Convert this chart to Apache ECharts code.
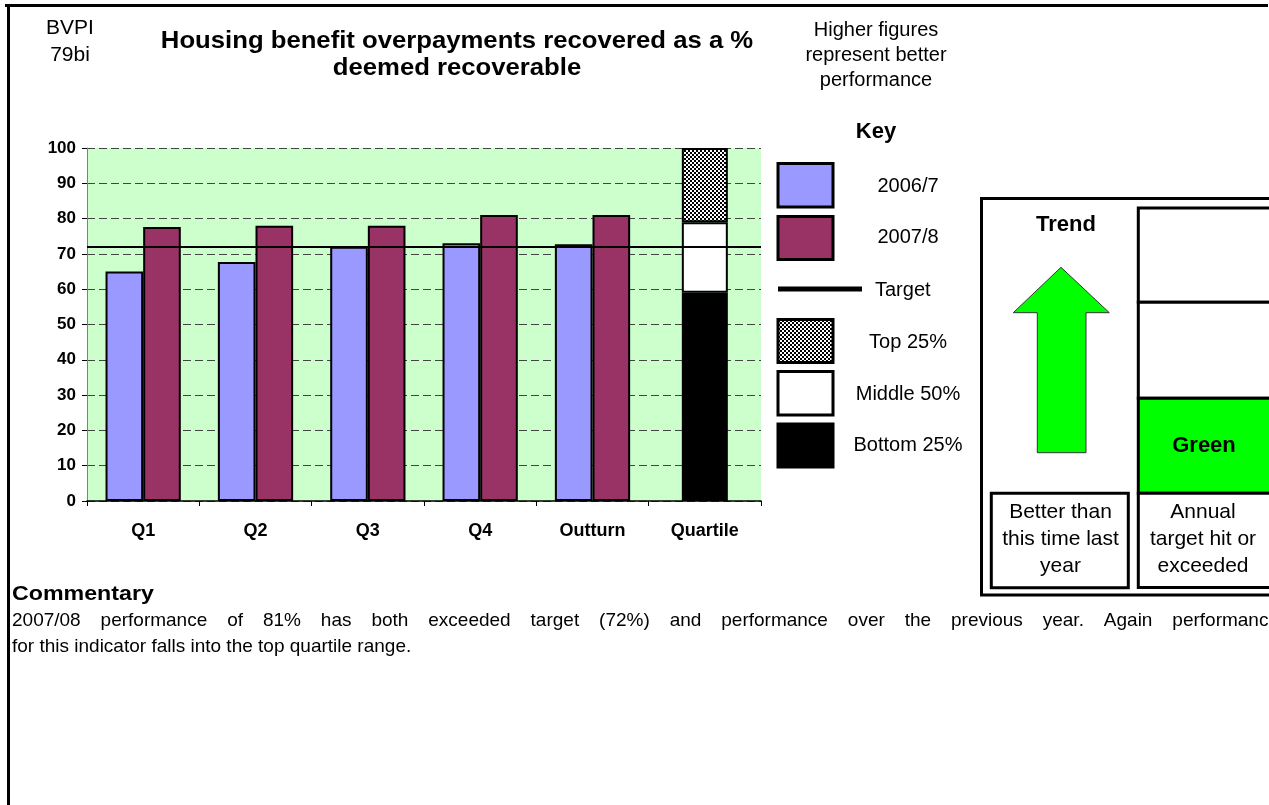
<!DOCTYPE html>
<html>
<head>
<meta charset="utf-8">
<title>Housing benefit overpayments recovered</title>
<script src="https://cdn.jsdelivr.net/npm/echarts@6/dist/echarts.min.js"></script>
<style>
  html, body { margin: 0; padding: 0; background: #fff; }
  #chart { width: 1269px; height: 805px; }
</style>
</head>
<body>
<div id="chart"></div>
<script>
// ---- data ----
const categories = ['Q1', 'Q2', 'Q3', 'Q4', 'Outturn', 'Quartile'];
const values2006 = [65, 67.7, 72, 73, 72.7, null];
const values2007 = [77.6, 78, 78, 81, 81, null];
const targetValue = 72;
// quartile band boundaries: bottom 25% upper edge, middle 50% upper edge, top
const quartileBounds = [59, 79, 100];
const yTicks = { min: 0, max: 100, interval: 10 };

const commentaryLine1 = '2007/08 performance of 81% has both exceeded target (72%) and performance over the previous year. Again performance';
const commentaryLine2 = 'for this indicator falls into the top quartile range.';

const FONT = '"Liberation Sans", Arial, Helvetica, sans-serif';

// checkered fill used for the "Top 25%" band
function makeChecker() {
  const c = document.createElement('canvas');
  c.width = 4; c.height = 4;
  const g = c.getContext('2d');
  g.fillStyle = '#000'; g.fillRect(0, 0, 4, 4);
  g.fillStyle = '#fff';
  g.fillRect(0, 0, 2, 2);
  g.fillRect(2, 2, 2, 2);
  return c;
}
const checker = makeChecker();
const checkerFill = { image: checker, repeat: 'repeat' };

// quartile segments only occupy the last category
const lastIdx = categories.length - 1;
function onlyLast(v) { return categories.map((_, i) => (i === lastIdx ? v : null)); }
const qBottom = onlyLast(quartileBounds[0]);
const qMiddle = onlyLast(quartileBounds[1] - quartileBounds[0]);
const qTop = onlyLast(quartileBounds[2] - quartileBounds[1]);

function txt(x, y, text, size, bold, align, sx) {
  return {
    type: 'text', x: x, y: y, z: 100, scaleX: sx || 1,
    style: {
      text: text, fill: '#000',
      font: (bold ? 'bold ' : '') + size + 'px ' + FONT,
      align: align || 'center', verticalAlign: 'middle',
      textAlign: align || 'center', textVerticalAlign: 'middle'
    }
  };
}
function box(x, y, w, h, fill, lw) {
  return {
    type: 'rect', z: 90,
    shape: { x: x, y: y, width: w, height: h },
    style: { fill: fill || '#fff', stroke: '#000', lineWidth: lw || 3 }
  };
}

// justified paragraph line: words spread between left and right edge
function justified(line, left, right, y, size) {
  const ctx = document.createElement('canvas').getContext('2d');
  const font = size + 'px ' + FONT;
  ctx.font = font;
  const words = line.split(' ');
  const widths = words.map(w => ctx.measureText(w).width);
  const total = widths.reduce((a, b) => a + b, 0);
  const gap = (right - left - total) / (words.length - 1);
  let x = left;
  return words.map((w, i) => {
    const el = txt(x, y, w, size, false, 'left');
    x += widths[i] + gap;
    return el;
  });
}

const barBorder = { borderColor: '#000', borderWidth: 2 };

const graphics = [
  // page frame (top and left edges)
  { type: 'line', z: 90, shape: { x1: 5, y1: 5.5, x2: 1268, y2: 5.5 }, style: { stroke: '#000', lineWidth: 3 } },
  { type: 'line', z: 90, shape: { x1: 8.5, y1: 4, x2: 8.5, y2: 810 }, style: { stroke: '#000', lineWidth: 3 } },

  // headings
  txt(70, 28, 'BVPI', 20, false, 'center', 1.05),
  txt(70, 55, '79bi', 20, false, 'center', 1.05),
  txt(457, 41, 'Housing benefit overpayments recovered as a %', 24, true, 'center', 1.07),
  txt(457, 68, 'deemed recoverable', 24, true, 'center', 1.07),
  txt(876, 30, 'Higher figures', 20, false),
  txt(876, 55, 'represent better', 20, false),
  txt(876, 80, 'performance', 20, false),

  // key
  txt(876, 132, 'Key', 22, true),
  box(778, 163.5, 55, 43.5, '#9999FF', 3),
  txt(908, 186, '2006/7', 20, false),
  box(778, 216.5, 55, 43, '#993366', 3),
  txt(908, 237, '2007/8', 20, false),
  { type: 'rect', z: 90, shape: { x: 778, y: 286.5, width: 84, height: 5 }, style: { fill: '#000' } },
  txt(875, 290, 'Target', 20, false, 'left'),
  box(778, 319.5, 55, 43, checkerFill, 3),
  txt(908, 342, 'Top 25%', 20, false),
  box(778, 371.5, 55, 43.5, '#fff', 3),
  txt(908, 394, 'Middle 50%', 20, false),
  box(778, 424, 55, 43, '#000', 3),
  txt(908, 445.5, 'Bottom 25%', 20, false),

  // trend / target status panel
  box(981.5, 198.5, 320, 396.5, '#fff', 3),
  txt(1066, 224.5, 'Trend', 22, true),
  {
    type: 'polygon', z: 95,
    shape: { points: [[1061, 267.3], [1109.3, 312.7], [1086, 312.7], [1086, 452.7], [1037.3, 452.7], [1037.3, 312.7], [1013.3, 312.7]] },
    style: { fill: '#00FF00', stroke: '#333', lineWidth: 1 }
  },
  box(1138.3, 208, 150, 94.3, '#fff', 3),
  box(1138.3, 302.3, 150, 96, '#fff', 3),
  box(1138.3, 398.3, 150, 95, '#00FF00', 3),
  box(1138.3, 493.3, 150, 94.3, '#fff', 3),
  txt(1204, 446, 'Green', 22, true),
  txt(1203, 512.5, 'Annual', 21, false),
  txt(1203, 539, 'target hit or', 21, false),
  txt(1203, 566, 'exceeded', 21, false),
  box(991.3, 493.3, 137, 94.4, '#fff', 3),
  txt(1060.5, 512.5, 'Better than', 21, false),
  txt(1060.5, 539, 'this time last', 21, false),
  txt(1060.5, 566, 'year', 21, false),

  // commentary
  txt(12, 594, 'Commentary', 20, true, 'left', 1.16),
  ...justified(commentaryLine1, 12, 1279, 621, 19),
  txt(12, 647, commentaryLine2, 19, false, 'left')
];

const chart = echarts.init(document.getElementById('chart'), null, { renderer: 'canvas' });
chart.setOption({
  animation: false,
  backgroundColor: '#fff',
  grid: {
    left: 87, right: 508, top: 148, bottom: 304,
    show: true, backgroundColor: '#CCFFCC', borderWidth: 0,
    outerBoundsMode: 'none'
  },
  xAxis: [
    {
      type: 'category', data: categories,
      axisLine: { lineStyle: { color: '#000', width: 1.5 } },
      axisTick: { show: true, length: 5, lineStyle: { color: '#000' } },
      axisLabel: { color: '#000', fontFamily: FONT, fontWeight: 'bold', fontSize: 18, margin: 21 },
      splitLine: { show: false }
    },
    {
      type: 'category', data: categories, show: false,
      axisLine: { show: false }, axisTick: { show: false }, axisLabel: { show: false }
    }
  ],
  yAxis: {
    type: 'value', min: yTicks.min, max: yTicks.max, interval: yTicks.interval,
    axisLine: { show: true, lineStyle: { color: '#808080', width: 1 } },
    axisTick: { show: true, length: 5, lineStyle: { color: '#000' } },
    axisLabel: { color: '#000', fontFamily: FONT, fontWeight: 'bold', fontSize: 17, margin: 11 },
    splitLine: { show: true, lineStyle: { color: '#444', width: 1, type: [8, 4] } }
  },
  series: [
    {
      name: '2006/7', type: 'bar', xAxisIndex: 0, data: values2006,
      barGap: '0%', barCategoryGap: '33%',
      itemStyle: Object.assign({ color: '#9999FF' }, barBorder)
    },
    {
      name: '2007/8', type: 'bar', xAxisIndex: 0, data: values2007,
      barGap: '0%', barCategoryGap: '33%',
      itemStyle: Object.assign({ color: '#993366' }, barBorder)
    },
    {
      name: 'Bottom 25%', type: 'bar', xAxisIndex: 1, stack: 'quartile', data: qBottom,
      barWidth: 46, itemStyle: Object.assign({ color: '#000' }, barBorder)
    },
    {
      name: 'Middle 50%', type: 'bar', xAxisIndex: 1, stack: 'quartile', data: qMiddle,
      barWidth: 46, itemStyle: Object.assign({ color: '#fff' }, barBorder)
    },
    {
      name: 'Top 25%', type: 'bar', xAxisIndex: 1, stack: 'quartile', data: qTop,
      barWidth: 46, itemStyle: Object.assign({ color: checkerFill }, barBorder),
      markLine: {
        silent: true, symbol: 'none', z: 10,
        label: { show: false },
        lineStyle: { color: '#000', width: 2, type: 'solid' },
        data: [{ yAxis: targetValue }]
      }
    }
  ],
  graphic: graphics
});
</script>
</body>
</html>
